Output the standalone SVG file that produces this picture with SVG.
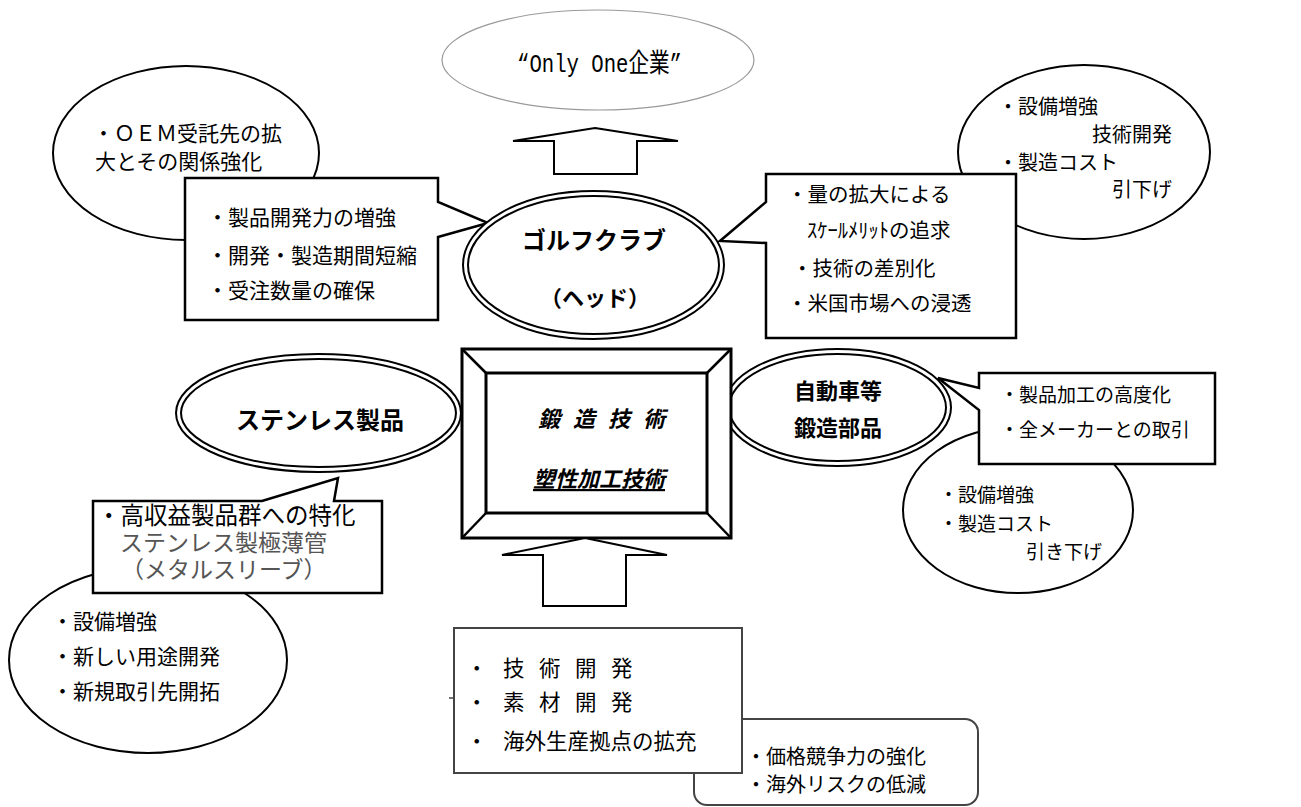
<svg xmlns="http://www.w3.org/2000/svg" width="1301" height="807" viewBox="0 0 1301 807">
<style>
.bg{fill:#fff}
.el{fill:#fff;stroke:#000;stroke-width:2}
.box{fill:#fff;stroke:#000;stroke-width:2.5;stroke-linejoin:miter}
.dbl-o{fill:#fff;stroke:#000;stroke-width:7}
.dbl-i{fill:none;stroke:#fff;stroke-width:3}
.arrow{fill:#fff;stroke:#000;stroke-width:2;stroke-linejoin:miter}
.t{font-family:"Noto Sans CJK JP","Noto Sans",sans-serif;fill:#000}
.b{font-family:"Noto Sans CJK JP","Noto Sans",sans-serif;font-weight:bold;fill:#000;text-anchor:middle}
.g{font-family:"Liberation Serif","Noto Sans CJK JP",serif;fill:#555}
</style>
<rect class="bg" x="0" y="0" width="1301" height="807"/>

<g id="goal">
  <ellipse cx="598" cy="60" rx="156" ry="50" fill="#fff" stroke="#999" stroke-width="1.2"/>
  <text x="517" y="72" font-family="'Liberation Mono','Noto Sans CJK JP',monospace" font-size="26" textLength="165" lengthAdjust="spacingAndGlyphs">“Only One企業”</text>
</g>

<g id="oem">
  <ellipse class="el" cx="186" cy="153" rx="133" ry="87"/>
  <text class="t" font-size="21" x="93" y="141">・ＯＥＭ受託先の拡</text>
  <text class="t" font-size="21" x="95" y="169">大とその関係強化</text>
</g>

<g id="golf-upper-right">
  <ellipse class="el" cx="1084" cy="152" rx="126" ry="87"/>
  <text class="t" font-size="20" x="998" y="114">・設備増強</text>
  <text class="t" font-size="20" x="1092" y="142">技術開発</text>
  <text class="t" font-size="20" x="998" y="170">・製造コスト</text>
  <text class="t" font-size="20" x="1112" y="197">引下げ</text>
</g>

<g id="auto-lower">
  <ellipse class="el" cx="1018" cy="510" rx="115" ry="83"/>
  <text class="t" font-size="19" x="939" y="502">・設備増強</text>
  <text class="t" font-size="19" x="939" y="531">・製造コスト</text>
  <text class="t" font-size="19" x="1026" y="559">引き下げ</text>
</g>

<g id="stainless-lower">
  <ellipse class="el" cx="148" cy="660" rx="139" ry="93"/>
  <text class="t" font-size="21" x="52" y="629">・設備増強</text>
  <text class="t" font-size="21" x="52" y="664">・新しい用途開発</text>
  <text class="t" font-size="21" x="52" y="699">・新規取引先開拓</text>
</g>

<g id="effects">
  <rect x="694" y="719" width="284" height="86" rx="13" ry="13" fill="#fff" stroke="#444" stroke-width="2"/>
  <text class="t" font-size="20" x="746" y="764">・価格競争力の強化</text>
  <text class="t" font-size="20" x="746" y="792">・海外リスクの低減</text>
</g>

<g id="measures">
  <line x1="449" y1="698" x2="454" y2="698" stroke="#444" stroke-width="1.5"/>
  <rect x="454" y="628" width="288" height="145" fill="#fff" stroke="#444" stroke-width="2"/>
  <text class="t" font-size="21.5" x="466" y="676">・</text>
  <text class="t" font-size="21.5" x="503" y="676" letter-spacing="14.5">技術開発</text>
  <text class="t" font-size="21.5" x="466" y="710">・</text>
  <text class="t" font-size="21.5" x="503" y="710" letter-spacing="14.5">素材開発</text>
  <text class="t" font-size="21.5" x="466" y="749">・</text>
  <text class="t" font-size="21.5" x="503" y="749">海外生産拠点の拡充</text>
</g>

<g id="golf-left-callout">
  <path class="box" d="M185,178 H438 V202 L488,223 L438,237 V320 H185 Z"/>
  <text class="t" font-size="21" x="207" y="225">・製品開発力の増強</text>
  <text class="t" font-size="21" x="207" y="263">・開発・製造期間短縮</text>
  <text class="t" font-size="21" x="207" y="298">・受注数量の確保</text>
</g>

<g id="golf-right-callout">
  <path class="box" d="M766,174 H1016 V338 H766 V243 L720,241 L766,202 Z"/>
  <text class="t" font-size="20.5" x="787" y="202">・量の拡大による</text>
  <text class="t" font-size="20.5" x="807" y="238">ｽｹｰﾙﾒﾘｯﾄの追求</text>
  <text class="t" font-size="20.5" x="792" y="276">・技術の差別化</text>
  <text class="t" font-size="20.5" x="787" y="311">・米国市場への浸透</text>
</g>

<g id="auto-callout">
  <path class="box" d="M979,373 H1215 V464 H979 V410 L938,378 L979,388 Z"/>
  <text class="t" font-size="19" x="1000" y="402">・製品加工の高度化</text>
  <text class="t" font-size="19" x="1000" y="437">・全メーカーとの取引</text>
</g>

<g id="stainless-callout">
  <path class="box" d="M93,501 H262 L338,478 L334,501 H382 V593 H93 Z"/>
  <text class="t" font-size="23.5" x="97" y="524">・高収益製品群への特化</text>
  <text class="g" font-size="23" x="120" y="551">ステンレス製極薄管</text>
  <text class="g" font-size="23" x="121" y="578">（メタルスリーブ）</text>
</g>

<g id="golf">
  <ellipse class="dbl-o" cx="593.5" cy="265" rx="128" ry="71.5"/>
  <ellipse class="dbl-i" cx="593.5" cy="265" rx="128" ry="71.5"/>
  <text class="b" font-size="24" x="594" y="249">ゴルフクラブ</text>
  <text class="b" font-size="22" x="595" y="306">（ヘッド）</text>
</g>

<g id="stainless">
  <ellipse class="dbl-o" cx="318.5" cy="413" rx="140" ry="56.5"/>
  <ellipse class="dbl-i" cx="318.5" cy="413" rx="140" ry="56.5"/>
  <text class="b" font-size="24" x="320" y="429">ステンレス製品</text>
</g>

<g id="auto">
  <ellipse class="dbl-o" cx="837.5" cy="407.5" rx="111" ry="56"/>
  <ellipse class="dbl-i" cx="837.5" cy="407.5" rx="111" ry="56"/>
  <text class="b" font-size="22" x="838" y="399">自動車等</text>
  <text class="b" font-size="22" x="838" y="436">鍛造部品</text>
</g>

<g id="core">
  <rect x="462" y="349" width="269" height="189" fill="#fff" stroke="#000" stroke-width="3"/>
  <rect x="486" y="373" width="221" height="140" fill="#fff" stroke="#000" stroke-width="3"/>
  <g stroke="#000" stroke-width="2.5">
    <line x1="462" y1="349" x2="486" y2="373"/>
    <line x1="731" y1="349" x2="707" y2="373"/>
    <line x1="462" y1="538" x2="486" y2="513"/>
    <line x1="731" y1="538" x2="707" y2="513"/>
  </g>
  <text class="t" font-size="22" font-weight="bold" font-style="italic" x="538" y="427" letter-spacing="13">鍛造技術</text>
  <text class="t" font-size="22" font-weight="bold" font-style="italic" x="533" y="487" text-decoration="underline">塑性加工技術</text>
</g>

<g id="connectors">
  <polygon class="arrow" points="595,128 678,141 637,141 637,174 554,174 554,141 513,141"/>
  <polygon class="arrow" points="585,538 667,555 626,555 626,606 543,606 543,555 502,555"/>
</g>
</svg>
